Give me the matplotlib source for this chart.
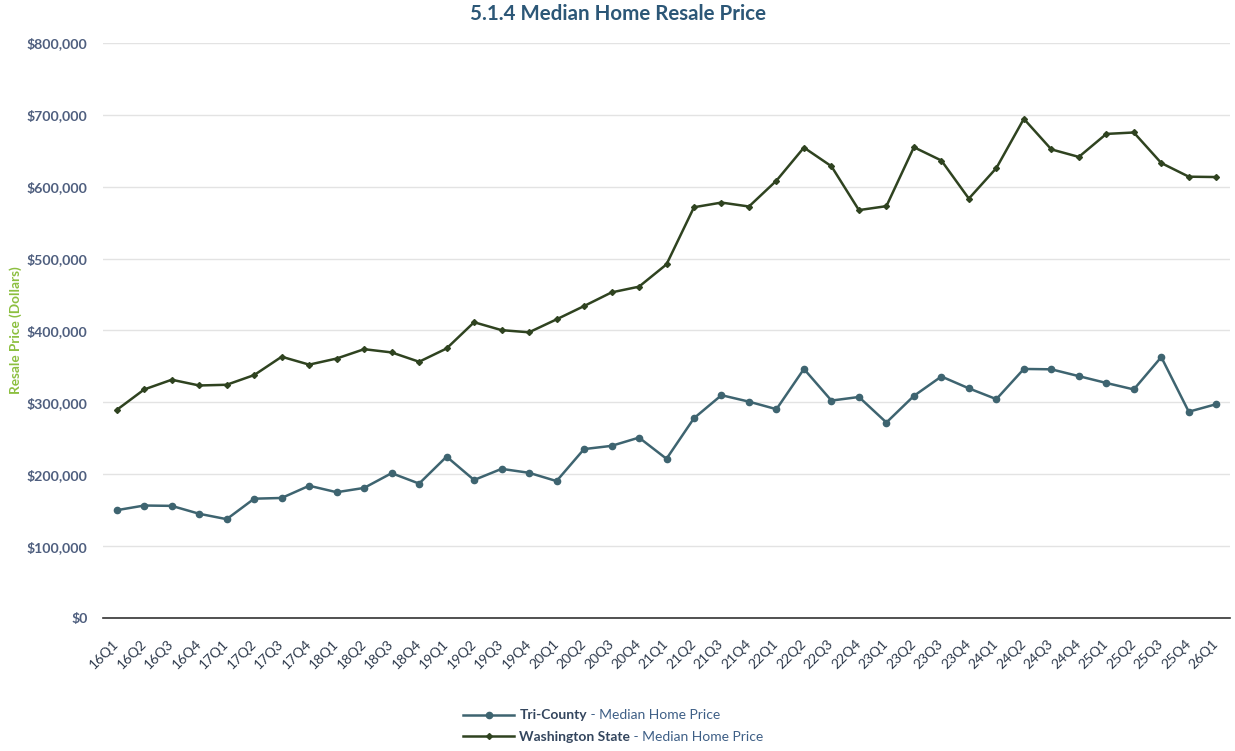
import matplotlib
matplotlib.use("Agg")
import matplotlib.pyplot as plt
from matplotlib.ticker import FuncFormatter, MultipleLocator

plt.rcParams['font.family'] = ['Lato', 'DejaVu Sans']

quarters = ['16Q1', '16Q2', '16Q3', '16Q4', '17Q1', '17Q2', '17Q3', '17Q4',
            '18Q1', '18Q2', '18Q3', '18Q4', '19Q1', '19Q2', '19Q3', '19Q4',
            '20Q1', '20Q2', '20Q3', '20Q4', '21Q1', '21Q2', '21Q3', '21Q4',
            '22Q1', '22Q2', '22Q3', '22Q4', '23Q1', '23Q2', '23Q3', '23Q4',
            '24Q1', '24Q2', '24Q3', '24Q4', '25Q1', '25Q2', '25Q3', '25Q4',
            '26Q1']

tri_county = [150000, 156500, 156000, 145000, 137500, 166000, 167000, 184000,
              175000, 181000, 201500, 187000, 224500, 192000, 207500, 202000,
              190500, 235000, 239500, 251000, 221500, 278000, 310000, 301000,
              290500, 346500, 302500, 307500, 272000, 309000, 336000, 319500,
              304500, 346500, 346000, 336500, 327000, 318000, 363000, 287000,
              297500]

washington = [289500, 318000, 331500, 323500, 324500, 338000, 363500, 352500,
              361000, 374000, 369500, 356500, 375000, 411500, 400500, 397500,
              415500, 434000, 453000, 461000, 492000, 571500, 578000, 572500,
              608500, 654500, 628500, 567500, 573000, 655000, 636500, 583500,
              626000, 694500, 652000, 641500, 673500, 675500, 633000, 614000,
              613500]

tri_color = '#3e6470'
wa_color = '#2f4320'
tick_color = '#4f5f7f'

fig = plt.figure(figsize=(12.35, 7.51), dpi=100)
ax = fig.add_axes([103 / 1235, 133 / 751, 1127 / 1235, 575 / 751])

x = list(range(len(quarters)))
ax.plot(x, tri_county, color=tri_color, lw=1.8, marker='o', markersize=4.5,
        label='Tri-County')
ax.plot(x, washington, color=wa_color, lw=1.8, marker='D', markersize=3,
        label='Washington State')

ax.set_xlim(-0.5, len(quarters) - 0.5)
ax.set_ylim(0, 800000)
ax.yaxis.set_major_locator(MultipleLocator(100000))
ax.yaxis.set_major_formatter(FuncFormatter(lambda v, p: '${:,.0f}'.format(v)))
ax.grid(axis='y', color='#e3e3e3', lw=1)
ax.set_axisbelow(True)

ax.set_xticks(x)
ax.tick_params(axis='x', length=0, pad=17)
ax.set_xticklabels(quarters, rotation=45, ha='right', va='center',
                   rotation_mode='anchor', fontsize=10, color='#2e3a4c')
ax.tick_params(axis='y', length=0, pad=11, labelsize=10.2, labelcolor=tick_color)
for lab in ax.get_yticklabels():
    lab.set_fontweight('bold')

for side in ['left', 'right', 'top']:
    ax.spines[side].set_visible(False)
ax.spines['bottom'].set_color('#333333')
ax.spines['bottom'].set_linewidth(1.2)

ax.set_ylabel('Resale Price (Dollars)', color='#8cbf3f', fontsize=9.8,
              fontweight='bold')
ax.yaxis.set_label_coords((22 - 103) / 1127, 0.5)

fig.text(0.5, 1 - 14 / 751, '5.1.4 Median Home Resale Price', ha='center',
         va='center', fontsize=14.8, fontweight='bold', color='#2c5777')

leg = ax.legend(loc='center left', bbox_to_anchor=(463 / 1235, 1 - 726 / 751),
                bbox_transform=fig.transFigure, frameon=False, fontsize=10,
                handlelength=3.7, handletextpad=0.35, labelspacing=0.65,
                borderpad=0, borderaxespad=0)
for t in leg.get_texts():
    t.set_fontweight('bold')
    t.set_color('#34465e')

# second, non-bold part of each legend label goes right after the bold part
fig.canvas.draw()
renderer = fig.canvas.get_renderer()
for t in leg.get_texts():
    bb = t.get_window_extent(renderer)
    fx, fy = fig.transFigure.inverted().transform((bb.x1, (bb.y0 + bb.y1) / 2))
    fig.text(fx, fy, ' - Median Home Price', va='center', ha='left',
             fontsize=10, color='#3e5f86')

fig.savefig('out.png', dpi=100)
